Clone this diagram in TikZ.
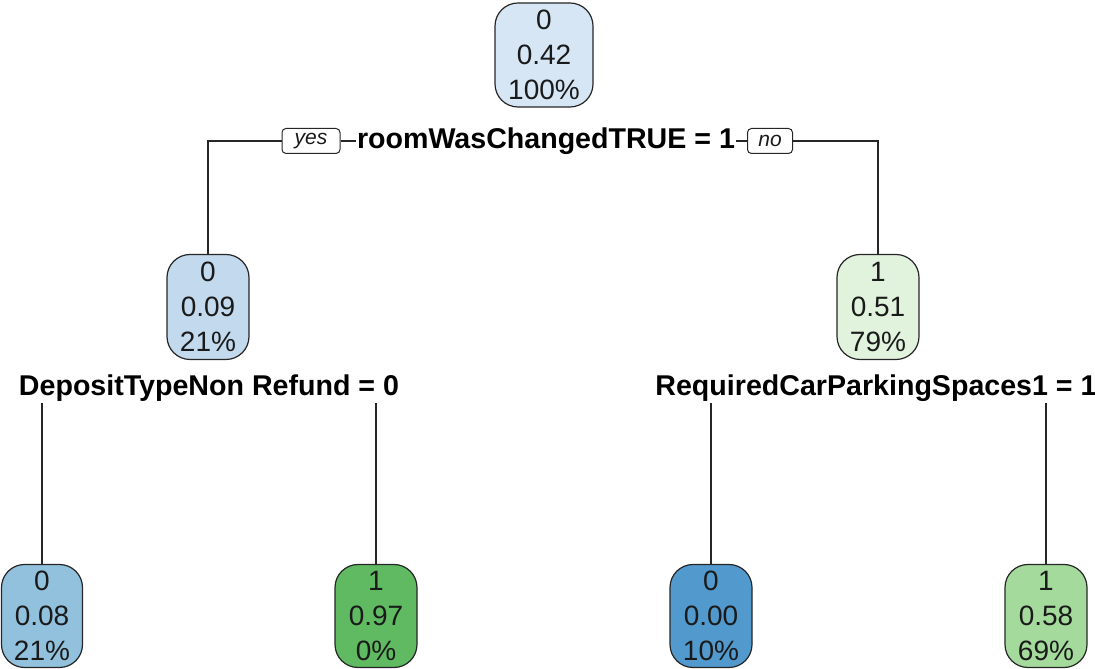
\documentclass[tikz,border=0pt]{standalone}
\usepackage{fontspec}
\setmainfont{Liberation Sans}
\definecolor{cRoot}{HTML}{D6E6F5}
\definecolor{cLeftTwo}{HTML}{C2D9EE}
\definecolor{cRightTwo}{HTML}{E1F3DC}
\definecolor{cLeafA}{HTML}{92C1DE}
\definecolor{cLeafB}{HTML}{5FBA62}
\definecolor{cLeafC}{HTML}{5299CD}
\definecolor{cLeafD}{HTML}{A4DA9C}
\definecolor{txt}{HTML}{1A1A1A}
\tikzset{
  treebox/.style={draw=black!85, line width=1.2pt, rounded corners=23pt, align=center,
    inner sep=0pt, text=txt, font=\fontsize{28}{35}\selectfont},
  splitlab/.style={inner sep=1pt, text=black, font=\fontsize{28.6}{30}\selectfont\bfseries},
  yesno/.style={draw=black!85, line width=1pt, rounded corners=4pt, inner sep=0pt,
    font=\fontsize{21}{22}\selectfont\itshape, text=txt, minimum height=25pt},
  conn/.style={draw=black!85, line width=1.2pt},
}
\begin{document}
\begin{tikzpicture}[x=1pt,y=1pt]
\useasboundingbox (0,0) rectangle (1095,669);
% nodes
\node[treebox, fill=cRoot, minimum width=98pt, minimum height=104pt] (root) at (544,614) {0\\0.42\\100\%};
\node[treebox, fill=cLeftTwo, minimum width=82pt, minimum height=105pt] (n2) at (208,362) {0\\0.09\\21\%};
\node[treebox, fill=cRightTwo, minimum width=82pt, minimum height=105pt] (n3) at (878,362) {1\\0.51\\79\%};
\node[treebox, fill=cLeafA, minimum width=81pt, minimum height=103pt] (l1) at (42,53) {0\\0.08\\21\%};
\node[treebox, fill=cLeafB, minimum width=82pt, minimum height=103pt] (l2) at (376,53) {1\\0.97\\0\%};
\node[treebox, fill=cLeafC, minimum width=82pt, minimum height=103pt] (l3) at (711,53) {0\\0.00\\10\%};
\node[treebox, fill=cLeafD, minimum width=82pt, minimum height=103pt] (l4) at (1046,53) {1\\0.58\\69\%};
% split labels
\node[splitlab] (s1) at (546,528) {roomWasChangedTRUE = 1};
\node[yesno, minimum width=58pt] (yes) at (311,528) {yes};
\node[yesno, minimum width=45pt] (no) at (770,528) {no};
\node[splitlab] (s2) at (209,281) {DepositTypeNon Refund = 0};
\node[splitlab] (s3) at (876,281) {RequiredCarParkingSpaces1 = 1};
% connectors
\draw[conn] (yes.east) -- (s1.west);
\draw[conn] (s1.east) -- (no.west);
\draw[conn] (yes.west) -| (n2.north);
\draw[conn] (no.east) -| (n3.north);
\draw[conn] (l1.north) -- (l1.north |- s2.south);
\draw[conn] (l2.north) -- (l2.north |- s2.south);
\draw[conn] (l3.north) -- (l3.north |- s3.south);
\draw[conn] (l4.north) -- (l4.north |- s3.south);
\end{tikzpicture}
\end{document}
